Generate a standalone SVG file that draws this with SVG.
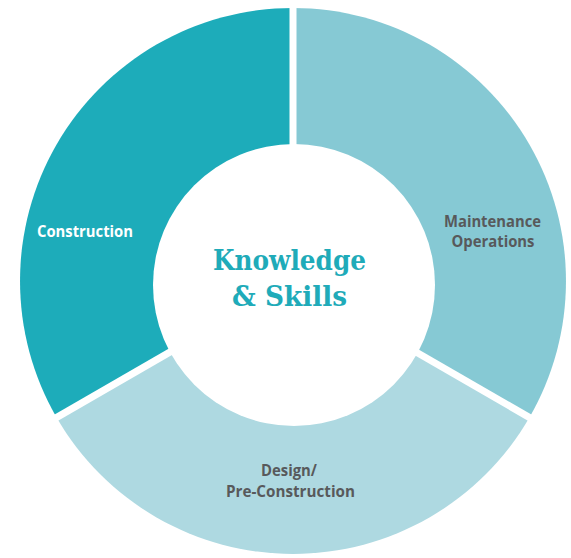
<svg xmlns="http://www.w3.org/2000/svg" width="571" height="558" viewBox="0 0 571 558">
<style>
.lbl{font-family:"Open Sans","Liberation Sans",sans-serif;font-weight:700;font-size:16px;text-anchor:middle;fill:#58595b}
.gap{stroke:#ffffff;stroke-width:7;fill:none}
.title{font-family:"DejaVu Serif","Liberation Serif",serif;font-weight:700;font-size:28px;text-anchor:middle;fill:#1fabb9}
</style>
<rect width="571" height="558" fill="#ffffff"/>
<g id="construction">
<path d="M293,281 L56.6,417.5 A273,273 0 0 1 293,8 Z" fill="#1dacba"/>
<text class="lbl" x="85" y="237" style="fill:#ffffff" textLength="96" lengthAdjust="spacingAndGlyphs">Construction</text>
</g>
<g id="maintenance">
<path d="M293,281 L293,8 A273,273 0 0 1 529.4,417.5 Z" fill="#86c9d4"/>
<text class="lbl" x="492.5" y="227" textLength="97" lengthAdjust="spacingAndGlyphs">Maintenance</text>
<text class="lbl" x="493" y="247" textLength="83" lengthAdjust="spacingAndGlyphs">Operations</text>
</g>
<g id="design">
<path d="M293,281 L529.4,417.5 A273,273 0 0 1 56.6,417.5 Z" fill="#aed9e1"/>
<text class="lbl" x="289" y="476" textLength="56" lengthAdjust="spacingAndGlyphs">Design/</text>
<text class="lbl" x="290.5" y="497" textLength="129" lengthAdjust="spacingAndGlyphs">Pre-Construction</text>
</g>
<g id="connectors">
<line class="gap" x1="293" y1="281" x2="293" y2="0"/>
<line class="gap" x1="293" y1="281" x2="550" y2="429.4"/>
<line class="gap" x1="293" y1="281" x2="36" y2="429.4"/>
</g>
<g id="center">
<circle cx="294" cy="285" r="141" fill="#ffffff"/>
<text class="title" x="289.5" y="270" textLength="153" lengthAdjust="spacingAndGlyphs">Knowledge</text>
<text class="title" x="289.5" y="306" textLength="115" lengthAdjust="spacingAndGlyphs">&amp; Skills</text>
</g>
</svg>
